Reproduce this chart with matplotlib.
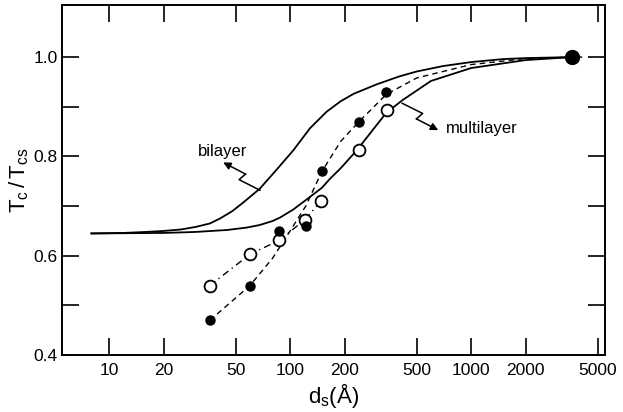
import numpy as np
import matplotlib
matplotlib.use("Agg")
import matplotlib.pyplot as plt
from matplotlib.ticker import FixedLocator, NullLocator

plt.rcParams['font.family'] = ['Liberation Sans', 'DejaVu Sans']
plt.rcParams['mathtext.fontset'] = 'custom'
plt.rcParams['mathtext.rm'] = 'Liberation Sans'
plt.rcParams['mathtext.it'] = 'Liberation Sans'

# theory curves
bilayer_x = [8, 12, 16, 20, 25, 30, 36, 41, 48, 55, 68, 85, 104, 129, 159, 190, 224, 300, 400, 500, 700, 1000,
             1500, 2000, 3600]
bilayer_y = [0.645, 0.646, 0.648, 0.650, 0.653, 0.658, 0.665, 0.675, 0.690, 0.707, 0.735, 0.775, 0.812, 0.857,
             0.890, 0.911, 0.926, 0.945, 0.961, 0.971, 0.982, 0.990, 0.996, 0.998, 1.0]

multi_x = [8, 20, 30, 45, 58, 68, 80, 88, 104, 125, 150, 166, 190, 233, 340, 420, 600, 1000, 2000, 3600]
multi_y = [0.645, 0.646, 0.648, 0.652, 0.657, 0.662, 0.670, 0.677, 0.693, 0.715, 0.737, 0.755, 0.776, 0.812,
           0.888, 0.914, 0.952, 0.978, 0.994, 1.0]

# measured points
filled_x = [36, 60, 87, 122, 150, 240, 340]
filled_y = [0.47, 0.54, 0.65, 0.66, 0.77, 0.87, 0.93]
open_x = [36, 60, 87, 121, 148, 239, 342]
open_y = [0.54, 0.603, 0.631, 0.673, 0.71, 0.812, 0.893]
bulk_x = [3600]
bulk_y = [1.0]

# guide lines through the points
dash_x = [36, 60, 80, 100, 122, 150, 190, 240, 340, 500, 1000, 2000, 3600, 4300]
dash_y = [0.47, 0.54, 0.595, 0.65, 0.70, 0.77, 0.83, 0.87, 0.925, 0.958, 0.985, 0.997, 1.0, 1.0]
dashdot_x = [36, 60, 87, 121, 148]
dashdot_y = [0.54, 0.603, 0.631, 0.673, 0.71]

xticks = [10, 20, 50, 100, 200, 500, 1000, 2000, 5000]
yticks = [0.4, 0.6, 0.8, 1.0]
yminor = [0.5, 0.7, 0.9]

fig = plt.figure(figsize=(6.23, 4.12), dpi=100)
ax = fig.add_axes([0.0995, 0.138, 0.872, 0.850])
ax.set_xscale('log')
ax.set_xlim(5.5, 5500)
ax.set_ylim(0.4, 1.105)

ax.plot(bilayer_x, bilayer_y, color='black', lw=1.3)
ax.plot(multi_x, multi_y, color='black', lw=1.3)
ax.plot(dash_x, dash_y, color='black', lw=1.0, dashes=(4, 3))
ax.plot(dashdot_x, dashdot_y, color='black', lw=1.0, dashes=(5, 3, 1, 3))

ax.plot(open_x, open_y, 'o', ms=8.5, mfc='white', mec='black', mew=1.3, zorder=5)
ax.plot(filled_x, filled_y, 'o', ms=6.5, color='black', zorder=6)
ax.plot(bulk_x, bulk_y, 'o', ms=10, color='black', zorder=6)

ax.xaxis.set_major_locator(FixedLocator(xticks))
ax.xaxis.set_minor_locator(NullLocator())
ax.set_xticklabels([str(t) for t in xticks])
ax.yaxis.set_major_locator(FixedLocator(yticks))
ax.yaxis.set_minor_locator(FixedLocator(yminor))
ax.set_yticklabels(['%.1f' % t for t in yticks])

ax.tick_params(which='both', direction='in', top=True, right=True, length=12, width=1.2, labelsize=12.5)
ax.tick_params(axis='x', pad=6)
ax.tick_params(axis='y', pad=3)
for sp in ax.spines.values():
    sp.set_linewidth(1.4)

ax.set_xlabel(r'$\mathregular{d_s(\AA)}$', fontsize=16, labelpad=2)
ax.set_ylabel(r'$\mathregular{T_c\,/\,T_{cs}}$', fontsize=16, labelpad=2)


def lightning(ax, start, end):
    # zigzag arrow drawn in display space
    s = ax.transData.transform(start)
    e = ax.transData.transform(end)
    d = e - s
    L = np.hypot(*d)
    n = np.array([-d[1], d[0]]) / L
    a = s + 0.50 * d + 0.09 * L * n
    b = s + 0.46 * d - 0.09 * L * n
    inv = ax.transData.inverted()
    pts = inv.transform(np.array([s, a, b]))
    ax.plot(pts[:, 0], pts[:, 1], color='black', lw=1.1)
    ax.annotate('', xy=end, xytext=pts[-1],
                arrowprops=dict(arrowstyle='-|>', color='black', lw=1.1, mutation_scale=11, shrinkA=0, shrinkB=0))


lightning(ax, (68.2, 0.732), (42.7, 0.788))
lightning(ax, (416, 0.907), (658, 0.853))

ax.text(42.5, 0.81, 'bilayer', fontsize=12, ha='center', va='center')
ax.text(1150, 0.857, 'multilayer', fontsize=12, ha='center', va='center')

fig.savefig('out.png', dpi=100)
